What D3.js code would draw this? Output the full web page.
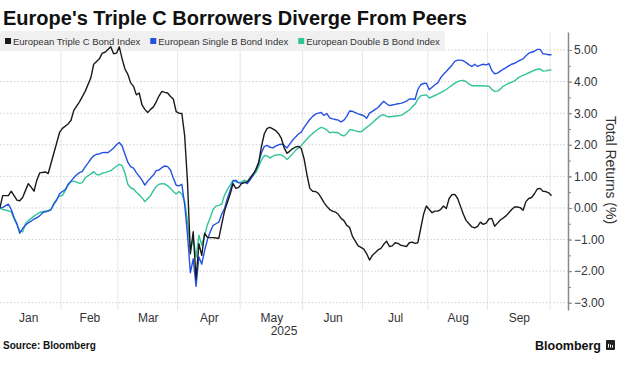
<!DOCTYPE html>
<html lang="en">
<head>
  <meta charset="utf-8"/>
  <title>Europe's Triple C Borrowers Diverge From Peers</title>
  <script src="https://d3js.org/d3.v7.min.js"></script>
  <style>
  body { margin: 0; background: #fff; }
  * { font-family: "Liberation Sans", Arial, sans-serif; }
  .grid-h line { stroke: #cfcfcf; stroke-dasharray: 1.5,2; }
  .grid-v line { stroke: #e6e6e6; }
  .y-axis path, .y-axis line, .y-minor path, .y-minor line { stroke: #8a8a8a; }
  .y-axis path { stroke-width: 1.5px; }
  .y-axis text { font-size: 12px; fill: #333; }
  .x-axis text { font-size: 12px; fill: #333; }
  .series { fill: none; stroke-width: 1.4px; stroke-linejoin: round; }
  </style>
</head>
<body>
<svg id="chart" width="628" height="367"></svg>
<script>
// values, [MM-DD, total return %]
const seriesNames = ["European Triple C Bond Index", "European Single B Bond Index", "European Double B Bond Index"];
const seriesColors = ["#1a1a1a", "#2551e2", "#34c49a"];

const tripleC = [["01-02",0.00],["01-03",0.39],["01-07",0.39],["01-08",0.53],["01-10",0.25],["01-13",0.23],["01-14",0.33],["01-16",0.77],["01-17",0.66],["01-20",0.53],["01-21",0.88],["01-22",1.11],["01-24",1.14],["01-27",1.09],["01-29",1.74],["01-31",2.39],["02-03",2.52],["02-05",2.66],["02-06",2.77],["02-07",3.09],["02-11",3.36],["02-13",3.69],["02-17",4.12],["02-18",4.55],["02-20",4.72],["02-21",4.90],["02-24",4.93],["02-26",5.10],["02-27",4.88],["02-28",4.90],["03-03",5.10],["03-04",4.72],["03-05",4.40],["03-06",4.23],["03-07",3.96],["03-10",3.85],["03-11",3.58],["03-12",3.64],["03-13",3.26],["03-14",3.12],["03-17",3.02],["03-18",3.12],["03-19",3.20],["03-20",3.36],["03-21",3.55],["03-24",3.69],["03-25",3.66],["03-26",3.64],["03-27",3.53],["03-28",3.45],["03-31",3.05],["04-01",3.00],["04-02",2.99],["04-03",2.28],["04-04",0.80],["04-07",-1.45],["04-08",-0.75],["04-09",-2.25],["04-10",-1.13],["04-11",-1.50],["04-14",-0.80],["04-15",-0.93],["04-16",-0.94],["04-17",-0.94],["04-18",-0.95],["04-21",-0.96],["04-22",-0.53],["04-23",-0.10],["04-24",0.17],["04-25",0.44],["04-28",0.77],["04-29",0.62],["04-30",0.65],["05-01",0.77],["05-02",0.80],["05-05",0.82],["05-06",0.95],["05-07",1.07],["05-08",1.20],["05-09",1.42],["05-12",1.95],["05-13",2.35],["05-14",2.52],["05-15",2.55],["05-16",2.50],["05-19",2.45],["05-20",2.35],["05-21",2.20],["05-22",1.90],["05-23",1.73],["05-26",1.80],["05-27",1.88],["05-28",1.93],["05-29",1.95],["05-30",1.88],["06-02",1.55],["06-03",1.05],["06-04",0.62],["06-05",0.53],["06-06",0.52],["06-09",0.46],["06-10",0.33],["06-11",0.17],["06-12",0.05],["06-13",-0.05],["06-16",-0.10],["06-17",-0.13],["06-18",-0.20],["06-19",-0.33],["06-20",-0.40],["06-23",-0.55],["06-24",-0.62],["06-25",-0.90],["06-26",-1.05],["06-27",-1.20],["06-30",-1.25],["07-01",-1.30],["07-02",-1.45],["07-03",-1.65],["07-04",-1.50],["07-07",-1.42],["07-08",-1.33],["07-09",-1.28],["07-10",-1.15],["07-11",-1.05],["07-14",-1.22],["07-15",-1.20],["07-16",-1.10],["07-17",-1.12],["07-18",-1.18],["07-21",-1.20],["07-22",-1.22],["07-23",-1.10],["07-24",-1.08],["07-25",-1.12],["07-28",-1.10],["07-29",-0.65],["07-30",-0.20],["07-31",0.06],["08-01",-0.05],["08-04",-0.15],["08-05",-0.10],["08-06",-0.10],["08-07",-0.05],["08-08",0.06],["08-11",-0.02],["08-12",0.30],["08-13",0.42],["08-14",0.43],["08-15",0.30],["08-18",0.05],["08-19",-0.20],["08-20",-0.40],["08-21",-0.50],["08-22",-0.60],["08-25",-0.63],["08-26",-0.58],["08-27",-0.45],["08-28",-0.52],["08-29",-0.48],["09-01",-0.35],["09-02",-0.33],["09-03",-0.58],["09-04",-0.48],["09-05",-0.38],["09-08",-0.32],["09-09",-0.25],["09-10",-0.15],["09-11",-0.05],["09-12",0.03],["09-15",0.03],["09-16",0.01],["09-17",-0.07],["09-18",0.20],["09-19",0.30],["09-22",0.33],["09-23",0.45],["09-24",0.60],["09-25",0.62],["09-26",0.53],["09-29",0.52],["09-30",0.48],["10-01",0.39]];

const singleB = [["01-02",0.00],["01-03",0.02],["01-07",0.12],["01-08",-0.05],["01-09",-0.30],["01-10",-0.50],["01-13",-0.80],["01-14",-0.65],["01-15",-0.55],["01-16",-0.47],["01-17",-0.42],["01-20",-0.35],["01-21",-0.31],["01-22",-0.25],["01-23",-0.15],["01-24",-0.12],["01-27",-0.10],["01-28",-0.05],["01-29",0.12],["01-30",0.25],["01-31",0.45],["02-03",0.52],["02-04",0.58],["02-05",0.75],["02-06",0.85],["02-07",0.96],["02-10",1.05],["02-11",1.12],["02-12",1.16],["02-13",1.30],["02-14",1.42],["02-17",1.55],["02-18",1.65],["02-19",1.70],["02-20",1.71],["02-21",1.75],["02-24",1.76],["02-25",1.75],["02-26",1.82],["02-27",1.90],["02-28",2.00],["03-03",2.07],["03-04",1.96],["03-05",1.70],["03-06",1.45],["03-07",1.31],["03-10",1.26],["03-11",1.12],["03-12",1.00],["03-13",0.88],["03-14",0.72],["03-17",0.85],["03-18",0.95],["03-19",1.04],["03-20",1.18],["03-21",1.20],["03-24",1.28],["03-25",1.33],["03-26",1.31],["03-27",1.20],["03-28",0.95],["03-31",0.72],["04-01",0.70],["04-02",0.75],["04-03",0.10],["04-04",-0.85],["04-07",-2.05],["04-08",-1.61],["04-09",-2.48],["04-10",-1.55],["04-11",-1.78],["04-14",-1.35],["04-15",-1.00],["04-16",-0.75],["04-17",-0.55],["04-18",-0.50],["04-21",-0.45],["04-22",-0.20],["04-23",-0.02],["04-24",0.30],["04-25",0.55],["04-28",0.85],["04-29",0.88],["04-30",0.80],["05-01",0.78],["05-02",0.82],["05-05",0.77],["05-06",0.88],["05-07",1.02],["05-08",1.22],["05-09",1.45],["05-12",1.75],["05-13",1.95],["05-14",1.98],["05-15",1.92],["05-16",1.90],["05-19",1.96],["05-20",2.00],["05-21",2.02],["05-22",1.98],["05-23",1.90],["05-26",2.03],["05-27",2.15],["05-28",2.25],["05-29",2.34],["05-30",2.40],["06-02",2.55],["06-03",2.68],["06-04",2.80],["06-05",2.90],["06-06",2.97],["06-09",3.00],["06-10",3.02],["06-11",2.93],["06-12",2.99],["06-13",2.85],["06-16",2.82],["06-17",2.80],["06-18",2.78],["06-19",2.72],["06-20",2.78],["06-23",2.90],["06-24",3.07],["06-25",3.06],["06-26",3.02],["06-27",2.98],["06-30",2.95],["07-01",2.92],["07-02",2.84],["07-03",3.00],["07-04",3.06],["07-07",3.12],["07-08",3.18],["07-09",3.28],["07-10",3.38],["07-11",3.30],["07-14",3.24],["07-15",3.26],["07-16",3.28],["07-17",3.30],["07-18",3.31],["07-21",3.34],["07-22",3.38],["07-23",3.45],["07-24",3.45],["07-25",3.44],["07-28",3.75],["07-29",3.90],["07-30",3.94],["07-31",3.95],["08-01",3.74],["08-04",3.82],["08-05",3.90],["08-06",3.96],["08-07",4.12],["08-08",4.23],["08-11",4.32],["08-12",4.42],["08-13",4.52],["08-14",4.64],["08-15",4.68],["08-18",4.68],["08-19",4.66],["08-20",4.60],["08-21",4.53],["08-22",4.48],["08-25",4.55],["08-26",4.48],["08-27",4.52],["08-28",4.55],["08-29",4.53],["09-01",4.57],["09-02",4.35],["09-03",4.25],["09-04",4.27],["09-05",4.33],["09-08",4.39],["09-09",4.44],["09-10",4.50],["09-11",4.55],["09-12",4.58],["09-15",4.63],["09-16",4.68],["09-17",4.72],["09-18",4.82],["09-19",4.90],["09-22",4.93],["09-23",4.96],["09-24",5.02],["09-25",5.02],["09-26",4.88],["09-29",4.87],["09-30",4.85],["10-01",4.85]];

const doubleB = [["01-02",0.00],["01-03",-0.05],["01-07",-0.09],["01-08",-0.12],["01-09",-0.35],["01-10",-0.53],["01-13",-0.72],["01-14",-0.76],["01-15",-0.50],["01-16",-0.40],["01-17",-0.33],["01-20",-0.26],["01-21",-0.20],["01-22",-0.14],["01-23",-0.12],["01-24",-0.10],["01-27",-0.08],["01-28",-0.05],["01-29",0.15],["01-30",0.28],["01-31",0.38],["02-03",0.40],["02-04",0.55],["02-05",0.72],["02-06",0.83],["02-07",0.85],["02-10",0.82],["02-11",0.78],["02-12",0.80],["02-13",0.95],["02-14",1.02],["02-17",1.08],["02-18",1.15],["02-19",1.06],["02-20",1.05],["02-21",1.10],["02-24",1.12],["02-25",1.15],["02-26",1.18],["02-27",1.25],["02-28",1.32],["03-03",1.38],["03-04",1.34],["03-05",1.10],["03-06",0.75],["03-07",0.64],["03-10",0.60],["03-11",0.50],["03-12",0.42],["03-13",0.32],["03-14",0.20],["03-17",0.30],["03-18",0.39],["03-19",0.55],["03-20",0.68],["03-21",0.75],["03-24",0.77],["03-25",0.76],["03-26",0.70],["03-27",0.62],["03-28",0.52],["03-31",0.44],["04-01",0.52],["04-02",0.44],["04-03",0.20],["04-04",-0.45],["04-07",-1.34],["04-08",-0.96],["04-09",-1.56],["04-10",-0.86],["04-11",-1.18],["04-14",-0.86],["04-15",-0.53],["04-16",-0.30],["04-17",-0.05],["04-18",0.06],["04-21",0.08],["04-22",0.12],["04-23",0.40],["04-24",0.58],["04-25",0.72],["04-28",0.88],["04-29",0.82],["04-30",0.80],["05-01",0.82],["05-02",0.88],["05-05",0.84],["05-06",0.93],["05-07",1.02],["05-08",1.12],["05-09",1.31],["05-12",1.52],["05-13",1.66],["05-14",1.65],["05-15",1.58],["05-16",1.64],["05-19",1.67],["05-20",1.69],["05-21",1.68],["05-22",1.62],["05-23",1.53],["05-26",1.62],["05-27",1.72],["05-28",1.83],["05-29",1.90],["05-30",1.98],["06-02",2.08],["06-03",2.18],["06-04",2.28],["06-05",2.36],["06-06",2.43],["06-09",2.50],["06-10",2.55],["06-11",2.52],["06-12",2.47],["06-13",2.38],["06-16",2.40],["06-17",2.39],["06-18",2.38],["06-19",2.31],["06-20",2.28],["06-23",2.35],["06-24",2.48],["06-25",2.47],["06-26",2.44],["06-27",2.42],["06-30",2.41],["07-01",2.48],["07-02",2.55],["07-03",2.62],["07-04",2.70],["07-07",2.78],["07-08",2.86],["07-09",2.93],["07-10",2.95],["07-11",2.90],["07-14",2.88],["07-15",2.90],["07-16",2.91],["07-17",2.92],["07-18",2.93],["07-21",2.98],["07-22",3.04],["07-23",3.10],["07-24",3.20],["07-25",3.28],["07-28",3.45],["07-29",3.55],["07-30",3.57],["07-31",3.58],["08-01",3.48],["08-04",3.52],["08-05",3.56],["08-06",3.60],["08-07",3.65],["08-08",3.70],["08-11",3.75],["08-12",3.82],["08-13",3.88],["08-14",3.95],["08-15",4.00],["08-18",4.03],["08-19",4.04],["08-20",4.00],["08-21",3.92],["08-22",3.87],["08-25",3.87],["08-26",3.87],["08-27",3.87],["08-28",3.86],["08-29",3.86],["09-01",3.85],["09-02",3.76],["09-03",3.69],["09-04",3.70],["09-05",3.76],["09-08",3.85],["09-09",3.90],["09-10",3.95],["09-11",3.98],["09-12",4.02],["09-15",4.10],["09-16",4.16],["09-17",4.20],["09-18",4.24],["09-19",4.28],["09-22",4.32],["09-23",4.36],["09-24",4.39],["09-25",4.40],["09-26",4.33],["09-29",4.34],["09-30",4.36],["10-01",4.37]];

const yTicks = [-3, -2, -1, 0, 1, 2, 3, 4, 5];
const monthNames = ["Jan", "Feb", "Mar", "Apr", "May", "Jun", "Jul", "Aug", "Sep"];
const yearLabel = "2025";

const svg = d3.select("#chart");
const plot = { left: 0, right: 568, top: 32, bottom: 310 };

// the time axis counts trading days (weekdays only)
const jan1 = new Date(2025, 0, 1);
const isWeekday = d => d.getDay() % 6 !== 0;
function bday(d) { return d3.timeDay.range(jan1, d).filter(isWeekday).length; }
function parseDay(s) { const [m, d] = s.split("-"); return new Date(2025, +m - 1, +d); }
function firstWeekday(d) { while (!isWeekday(d)) d = d3.timeDay.offset(d, 1); return d; }

const x = d3.scaleLinear().domain([1.05, 200.8]).range([plot.left, plot.right]);
const y = d3.scaleLinear().domain([-3.23, 5.57]).range([plot.bottom, plot.top]);

// month boundaries sit half a day before the first trading day
const monthStarts = d3.timeMonth.range(new Date(2025, 0, 1), new Date(2025, 9, 2)).map(d => bday(firstWeekday(d)) - 0.5);
const monthMids = monthNames.map((m, i) => (monthStarts[i] + monthStarts[i + 1]) / 2);

// title
svg.append("text").attr("x", 3).attr("y", 25)
  .attr("font-size", 20).attr("font-weight", "bold").attr("fill", "#111")
  .text("Europe's Triple C Borrowers Diverge From Peers");

// grid
svg.append("g").attr("class", "grid-v")
  .selectAll("line").data(monthStarts.slice(1)).join("line")
  .attr("x1", d => x(d)).attr("x2", d => x(d))
  .attr("y1", plot.top).attr("y2", plot.bottom);

svg.append("g").attr("class", "grid-h")
  .selectAll("line").data(yTicks).join("line")
  .attr("x1", plot.left).attr("x2", plot.right)
  .attr("y1", d => y(d)).attr("y2", d => y(d));

// legend
const legend = svg.append("g");
const legendBg = legend.append("rect").attr("x", 0).attr("y", 31).attr("height", 20).attr("rx", 3).attr("fill", "#f0f0f0");
let lx = 5;
seriesNames.forEach((name, i) => {
  legend.append("rect").attr("x", lx).attr("y", 38).attr("width", 6).attr("height", 6).attr("fill", seriesColors[i]);
  const t = legend.append("text").attr("x", lx + 8).attr("y", 44.5)
    .attr("font-size", 9.5).attr("fill", "#333").text(name);
  lx += 8 + t.node().getComputedTextLength() + 10;
});
legendBg.attr("width", lx - 5);

// series
svg.append("clipPath").attr("id", "clip").append("rect")
  .attr("x", plot.left).attr("y", plot.top).attr("width", plot.right - plot.left).attr("height", plot.bottom - plot.top);

const line = d3.line().x(d => x(bday(parseDay(d[0])))).y(d => y(d[1]));
const lines = svg.append("g").attr("clip-path", "url(#clip)");
[[doubleB, 2], [singleB, 1], [tripleC, 0]].forEach(([data, i]) => {
  lines.append("path").datum(data).attr("class", "series").attr("stroke", seriesColors[i]).attr("d", line);
});

// y axis on the right
svg.append("g").attr("class", "y-minor").attr("transform", `translate(${plot.right},0)`)
  .call(d3.axisRight(y).tickValues(d3.range(-3, 5.5, 0.5)).tickSize(3).tickFormat(""))
  .call(g => g.select(".domain").remove());
svg.append("g").attr("class", "y-axis").attr("transform", `translate(${plot.right},0)`)
  .call(d3.axisRight(y).tickValues(yTicks).tickSize(4).tickPadding(2).tickSizeOuter(0).tickFormat(d3.format(".2f")));

svg.append("text").attr("transform", "translate(606,170) rotate(90)")
  .attr("text-anchor", "middle").attr("font-size", 14).attr("fill", "#333")
  .text("Total Returns (%)");

// month labels
svg.append("g").attr("class", "x-axis").attr("transform", `translate(0,${plot.bottom})`)
  .call(d3.axisBottom(x).tickValues(monthMids).tickSize(0).tickPadding(3).tickFormat((d, i) => monthNames[i]))
  .call(g => g.select(".domain").remove());
svg.append("text").attr("x", (plot.left + plot.right) / 2).attr("y", 335)
  .attr("text-anchor", "middle").attr("font-size", 12).attr("fill", "#333").text(yearLabel);

// footer
svg.append("text").attr("x", 3).attr("y", 349)
  .attr("font-size", 10).attr("font-weight", "bold").attr("fill", "#111").text("Source: Bloomberg");
svg.append("text").attr("x", 601).attr("y", 350).attr("text-anchor", "end")
  .attr("font-size", 12.5).attr("font-weight", "bold").attr("fill", "#111").text("Bloomberg");
const logo = svg.append("g").attr("transform", "translate(606,340)");
logo.append("rect").attr("width", 9).attr("height", 10).attr("rx", 1).attr("fill", "#222");
logo.selectAll("line").data([2.5, 4.5, 6.5]).join("line")
  .attr("x1", d => d).attr("x2", d => d).attr("y1", d => 3 + d / 3).attr("y2", 7.5)
  .attr("stroke", "#fff").attr("stroke-width", 1);
</script>
</body>
</html>
